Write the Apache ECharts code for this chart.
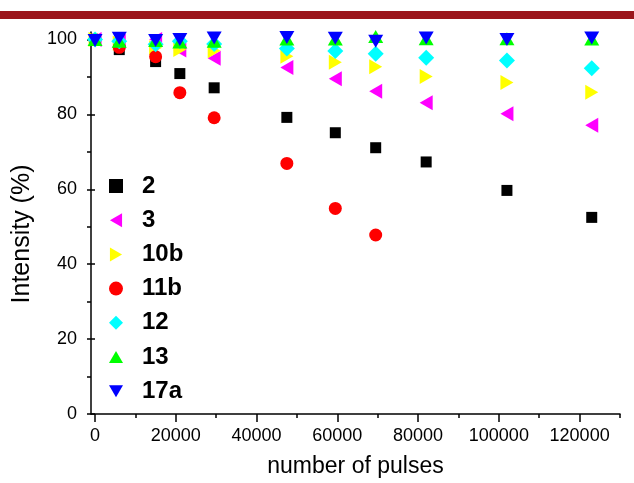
<!DOCTYPE html>
<html>
<head>
<meta charset="utf-8">
<script src="https://cdn.jsdelivr.net/npm/echarts@6/dist/echarts.min.js"></script>
<style>html,body{margin:0;padding:0;background:#fff}#c{width:634px;height:483px}</style>
</head>
<body>
<div id="c"></div>
<script>
var pulses = [0, 6000, 15000, 21000, 29500, 47500, 59500, 69500, 82000, 102000, 123000];
var s2   = [100, 97.3, 94.1, 90.9, 87.1, 79.2, 75.1, 71.1, 67.3, 59.7, 52.5];
var s3   = [100, 99.5, 100, 97.2, 95.0, 92.5, 89.5, 86.2, 83.1, 80.2, 77.1];
var s10b = [100, 99.0, 97.8, 97.3, 97.0, 95.5, 93.9, 92.7, 90.1, 88.5, 85.9];
var s11b = [100, 97.9, 95.4, 85.8, 79.1, 66.9, 54.9, 47.8];
var s12  = [100, 99.5, 98.7, 99.5, 98.8, 97.6, 96.9, 96.2, 95.1, 94.4, 92.3];
var s13  = [100, 99.5, 99.7, 99.3, 99.5, 100.1, 100.1, 100.8, 100.2, 100.2, 100.1];
var s17a = [99.7, 100.3, 99.7, 100.0, 100.4, 100.5, 100.3, 99.5, 100.4, 100.0, 100.4];
var seriesNames = ['2', '3', '10b', '11b', '12', '13', '17a'];
var xLabels = [0, 20000, 40000, 60000, 80000, 100000, 120000];
var xMinor = [0, 10000, 20000, 30000, 40000, 50000, 60000, 70000, 80000, 90000, 100000, 110000, 120000, 130000];
var yLabels = [0, 20, 40, 60, 80, 100];
var yMinor = [0, 10, 20, 30, 40, 50, 60, 70, 80, 90, 100];

function pts(vals) { return vals.map(function (v, i) { return [pulses[i], v]; }); }

var FONT = 'Liberation Sans, Arial, sans-serif';
var chart = echarts.init(document.getElementById('c'), null, {renderer: 'canvas'});

function mk(name, data, symbol, size, rot, color) {
  return {
    name: name, type: 'scatter', data: pts(data), symbol: symbol, symbolSize: size,
    symbolRotate: rot, itemStyle: {color: color, opacity: 1}, emphasis: {disabled: true}
  };
}

var legendIcons = [
  'rect',
  'path://M0,7.5L13,0L13,15Z',
  'path://M0,0L13,7.5L0,15Z',
  'circle',
  'diamond',
  'path://M7.5,0L15,13L0,13Z',
  'path://M0,0L15,0L7.5,13Z'
];

chart.setOption({
  animation: false,
  backgroundColor: '#fff',
  graphic: [{type: 'rect', shape: {x: 0, y: 11, width: 634, height: 8}, style: {fill: '#9B151B'}, z: 100}],
  grid: {left: 91, right: 14, top: 32, bottom: 68, containLabel: false},
  legend: {
    orient: 'vertical', left: 104, top: 169, itemWidth: 14, itemHeight: 14, itemGap: 10.2,
    data: seriesNames.map(function (n, i) { return {name: n, icon: legendIcons[i]}; }),
    textStyle: {fontFamily: FONT, fontSize: 24, fontWeight: 'bold', color: '#000', lineHeight: 24, padding: [0, 0, 0, 14]},
    selectedMode: false
  },
  xAxis: [{
    type: 'value', min: -1000, max: 130000,
    name: 'number of pulses', nameLocation: 'middle', nameGap: 41,
    nameTextStyle: {fontFamily: FONT, fontSize: 23, color: '#000'},
    axisLine: {show: true, onZero: false, lineStyle: {color: '#000', width: 1.5}},
    axisTick: {show: true, inside: false, length: 4, customValues: xMinor, lineStyle: {color: '#000', width: 1.5}},
    axisLabel: {customValues: xLabels, margin: 13, fontFamily: FONT, fontSize: 18, color: '#000',
      formatter: function (v) { return String(v); }},
    splitLine: {show: false}
  }, {
    type: 'value', min: -1000, max: 130000, position: 'bottom', offset: 0,
    axisLine: {show: false},
    axisTick: {show: true, inside: false, length: 8, customValues: xLabels, lineStyle: {color: '#000', width: 1.5}},
    axisLabel: {show: false}, splitLine: {show: false}
  }],
  yAxis: [{
    type: 'value', min: 0, max: 102, position: 'left',
    name: 'Intensity (%)', nameLocation: 'middle', nameGap: 56,
    nameTextStyle: {fontFamily: FONT, fontSize: 25, color: '#000', padding: [0, 22, 0, 0]},
    axisLine: {show: true, onZero: false, lineStyle: {color: '#000', width: 1.5}},
    axisTick: {show: true, inside: false, length: 4, customValues: yMinor, lineStyle: {color: '#000', width: 1.5}},
    axisLabel: {customValues: yLabels, margin: 14, fontFamily: FONT, fontSize: 18, color: '#000',
      formatter: function (v) { return String(v); }},
    splitLine: {show: false}
  }, {
    type: 'value', min: 0, max: 102, position: 'left', offset: 0,
    axisLine: {show: false},
    axisTick: {show: true, inside: false, length: 8, customValues: yLabels, lineStyle: {color: '#000', width: 1.5}},
    axisLabel: {show: false}, splitLine: {show: false}
  }],
  series: [
    mk(seriesNames[0], s2, 'rect', 11, 0, '#000000'),
    mk(seriesNames[1], s3, 'triangle', [15, 13], 90, '#FF00FF'),
    mk(seriesNames[2], s10b, 'triangle', [15, 13], -90, '#FFFF00'),
    mk(seriesNames[3], s11b, 'circle', 13, 0, '#FF0000'),
    mk(seriesNames[4], s12, 'diamond', 16, 0, '#00FFFF'),
    mk(seriesNames[5], s13, 'triangle', [15, 13], 0, '#00FF00'),
    mk(seriesNames[6], s17a, 'triangle', [15, 13], 180, '#0000FF')
  ]
});
</script>
</body>
</html>
